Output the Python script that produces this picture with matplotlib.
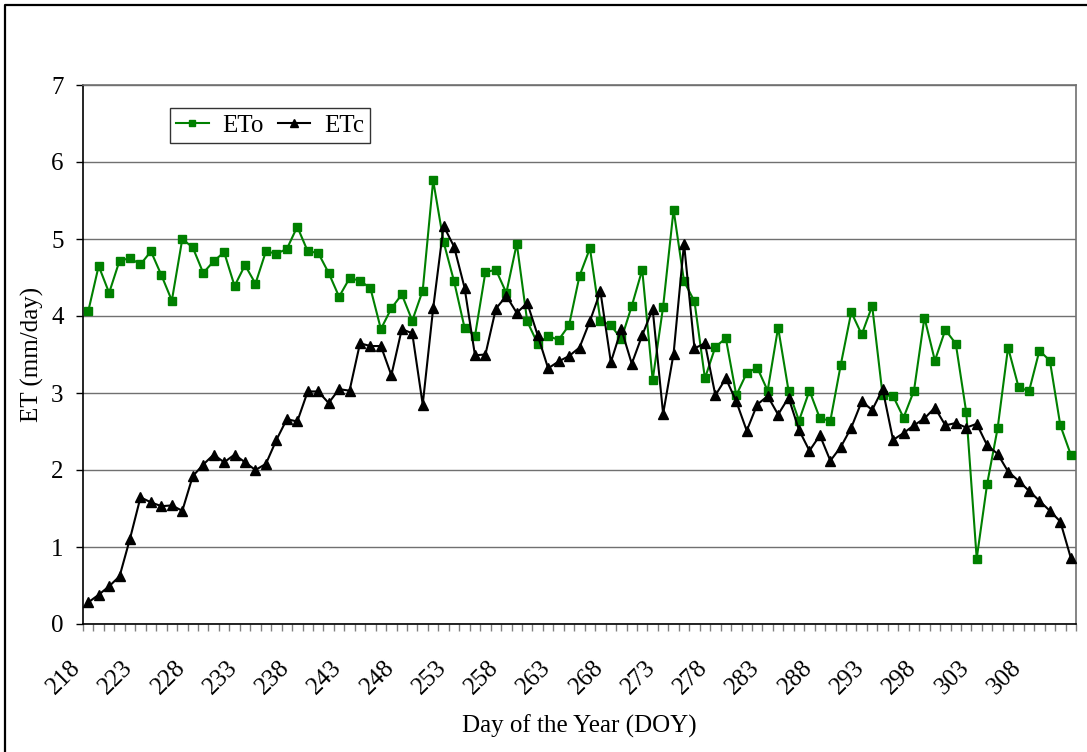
import numpy as np
import matplotlib
matplotlib.use('Agg')
import matplotlib.pyplot as plt
from matplotlib.lines import Line2D
from matplotlib.transforms import ScaledTranslation

plt.rcParams['font.family'] = ['Liberation Serif', 'DejaVu Serif']

# Day of the year categories
doy = list(range(218, 313))

eto = [4.06, 4.65, 4.30, 4.72, 4.75, 4.67, 4.84, 4.53, 4.20, 5.00,
       4.89, 4.56, 4.71, 4.83, 4.39, 4.66, 4.42, 4.84, 4.81, 4.87,
       5.16, 4.84, 4.82, 4.56, 4.25, 4.49, 4.46, 4.36, 3.83, 4.10,
       4.28, 3.94, 4.33, 5.76, 4.96, 4.45, 3.85, 3.74, 4.57, 4.60,
       4.30, 4.94, 3.93, 3.64, 3.74, 3.69, 3.88, 4.52, 4.88, 3.94,
       3.88, 3.70, 4.13, 4.60, 3.17, 4.12, 5.38, 4.45, 4.19, 3.19,
       3.60, 3.71, 2.97, 3.26, 3.33, 3.03, 3.85, 3.03, 2.64, 3.03,
       2.67, 2.64, 3.37, 4.05, 3.76, 4.13, 2.97, 2.96, 2.68, 3.03,
       3.98, 3.42, 3.82, 3.64, 2.75, 0.85, 1.82, 2.54, 3.59, 3.08,
       3.02, 3.55, 3.42, 2.58, 2.20]

etc = [0.28, 0.38, 0.49, 0.62, 1.11, 1.645, 1.58, 1.53, 1.54, 1.47,
       1.92, 2.07, 2.20, 2.10, 2.20, 2.10, 2.00, 2.08, 2.39, 2.66,
       2.63, 3.02, 3.02, 2.87, 3.05, 3.03, 3.645, 3.61, 3.61, 3.23,
       3.83, 3.775, 2.85, 4.10, 5.17, 4.90, 4.37, 3.49, 3.50, 4.095,
       4.26, 4.04, 4.17, 3.75, 3.32, 3.41, 3.48, 3.59, 3.935, 4.32,
       3.40, 3.83, 3.38, 3.75, 4.09, 2.73, 3.51, 4.94, 3.58, 3.645,
       2.97, 3.19, 2.89, 2.51, 2.85, 2.96, 2.72, 2.94, 2.52, 2.25,
       2.45, 2.12, 2.30, 2.55, 2.89, 2.78, 3.05, 2.39, 2.48, 2.58,
       2.67, 2.81, 2.58, 2.61, 2.55, 2.60, 2.32, 2.21, 1.98, 1.86,
       1.73, 1.60, 1.47, 1.33, 0.86]

tick_labels = [str(d) for d in doy[::5]]
y_ticks = [0, 1, 2, 3, 4, 5, 6, 7]

W, H = 1087, 752
fig = plt.figure(figsize=(W / 100, H / 100), dpi=100)
ax = fig.add_axes([83 / W, 1 - 624 / H, (1076 - 83) / W, (624 - 85) / H])

x = np.arange(len(doy))
ax.plot(x, eto, color='#008000', marker='s', markersize=6, lw=1.5,
        label='ETo', clip_on=False, zorder=3)
ax.plot(x, etc, color='black', marker='^', markersize=6.5, lw=1.5,
        label='ETc', clip_on=False, zorder=4)

ax.set_xlim(-0.5, len(doy) - 0.5)
ax.set_ylim(0, 7)
ax.set_yticks(y_ticks)
ax.set_yticklabels([str(v) for v in y_ticks], fontsize=18)
ax.yaxis.grid(True, color='#707070', lw=1)
ax.set_axisbelow(True)

# x ticks: labels every 5 days, tick marks at category boundaries
ax.set_xticks(x[::5])
ax.set_xticklabels(tick_labels, fontsize=18, rotation=45, ha='right',
                   va='center', rotation_mode='anchor')
ax.set_xticks(np.arange(-0.5, len(doy), 1), minor=True)
ax.tick_params(axis='x', which='major', length=0, pad=29)
ax.tick_params(axis='x', which='minor', length=5, width=1, color='#808080',
               direction='out')
ax.tick_params(axis='y', which='major', length=5, width=1, color='black',
               direction='out', pad=9)
off = ScaledTranslation(-11 / 100, 0, fig.dpi_scale_trans)
for lbl in ax.get_xticklabels():
    lbl.set_transform(lbl.get_transform() + off)

for s in ['left', 'bottom']:
    ax.spines[s].set_color('black')
    ax.spines[s].set_linewidth(1.2)
for s in ['top', 'right']:
    ax.spines[s].set_color('#707070')
    ax.spines[s].set_linewidth(1.2)

ax.set_xlabel('Day of the Year (DOY)', fontsize=18)
ax.set_ylabel('ET (mm/day)', fontsize=18)
ax.xaxis.set_label_coords(0.5, -0.168)
ax.yaxis.set_label_coords(-0.039, 0.5)

leg = ax.legend(loc='upper left', bbox_to_anchor=(0.0876, 0.957), ncol=2,
                frameon=True, fancybox=False, edgecolor='black',
                borderpad=0.25, handlelength=1.3, handletextpad=0.55,
                columnspacing=0.55, borderaxespad=0, fontsize=18,
                markerscale=0.8)
leg.get_frame().set_linewidth(1)

# outer chart border (cropped)
bx = 5 / W
by = 1 - 5 / H
fig.add_artist(Line2D([bx, bx, 1], [0, by, by], transform=fig.transFigure,
                      color='black', lw=1.6))

fig.savefig('out.png', dpi=100)
